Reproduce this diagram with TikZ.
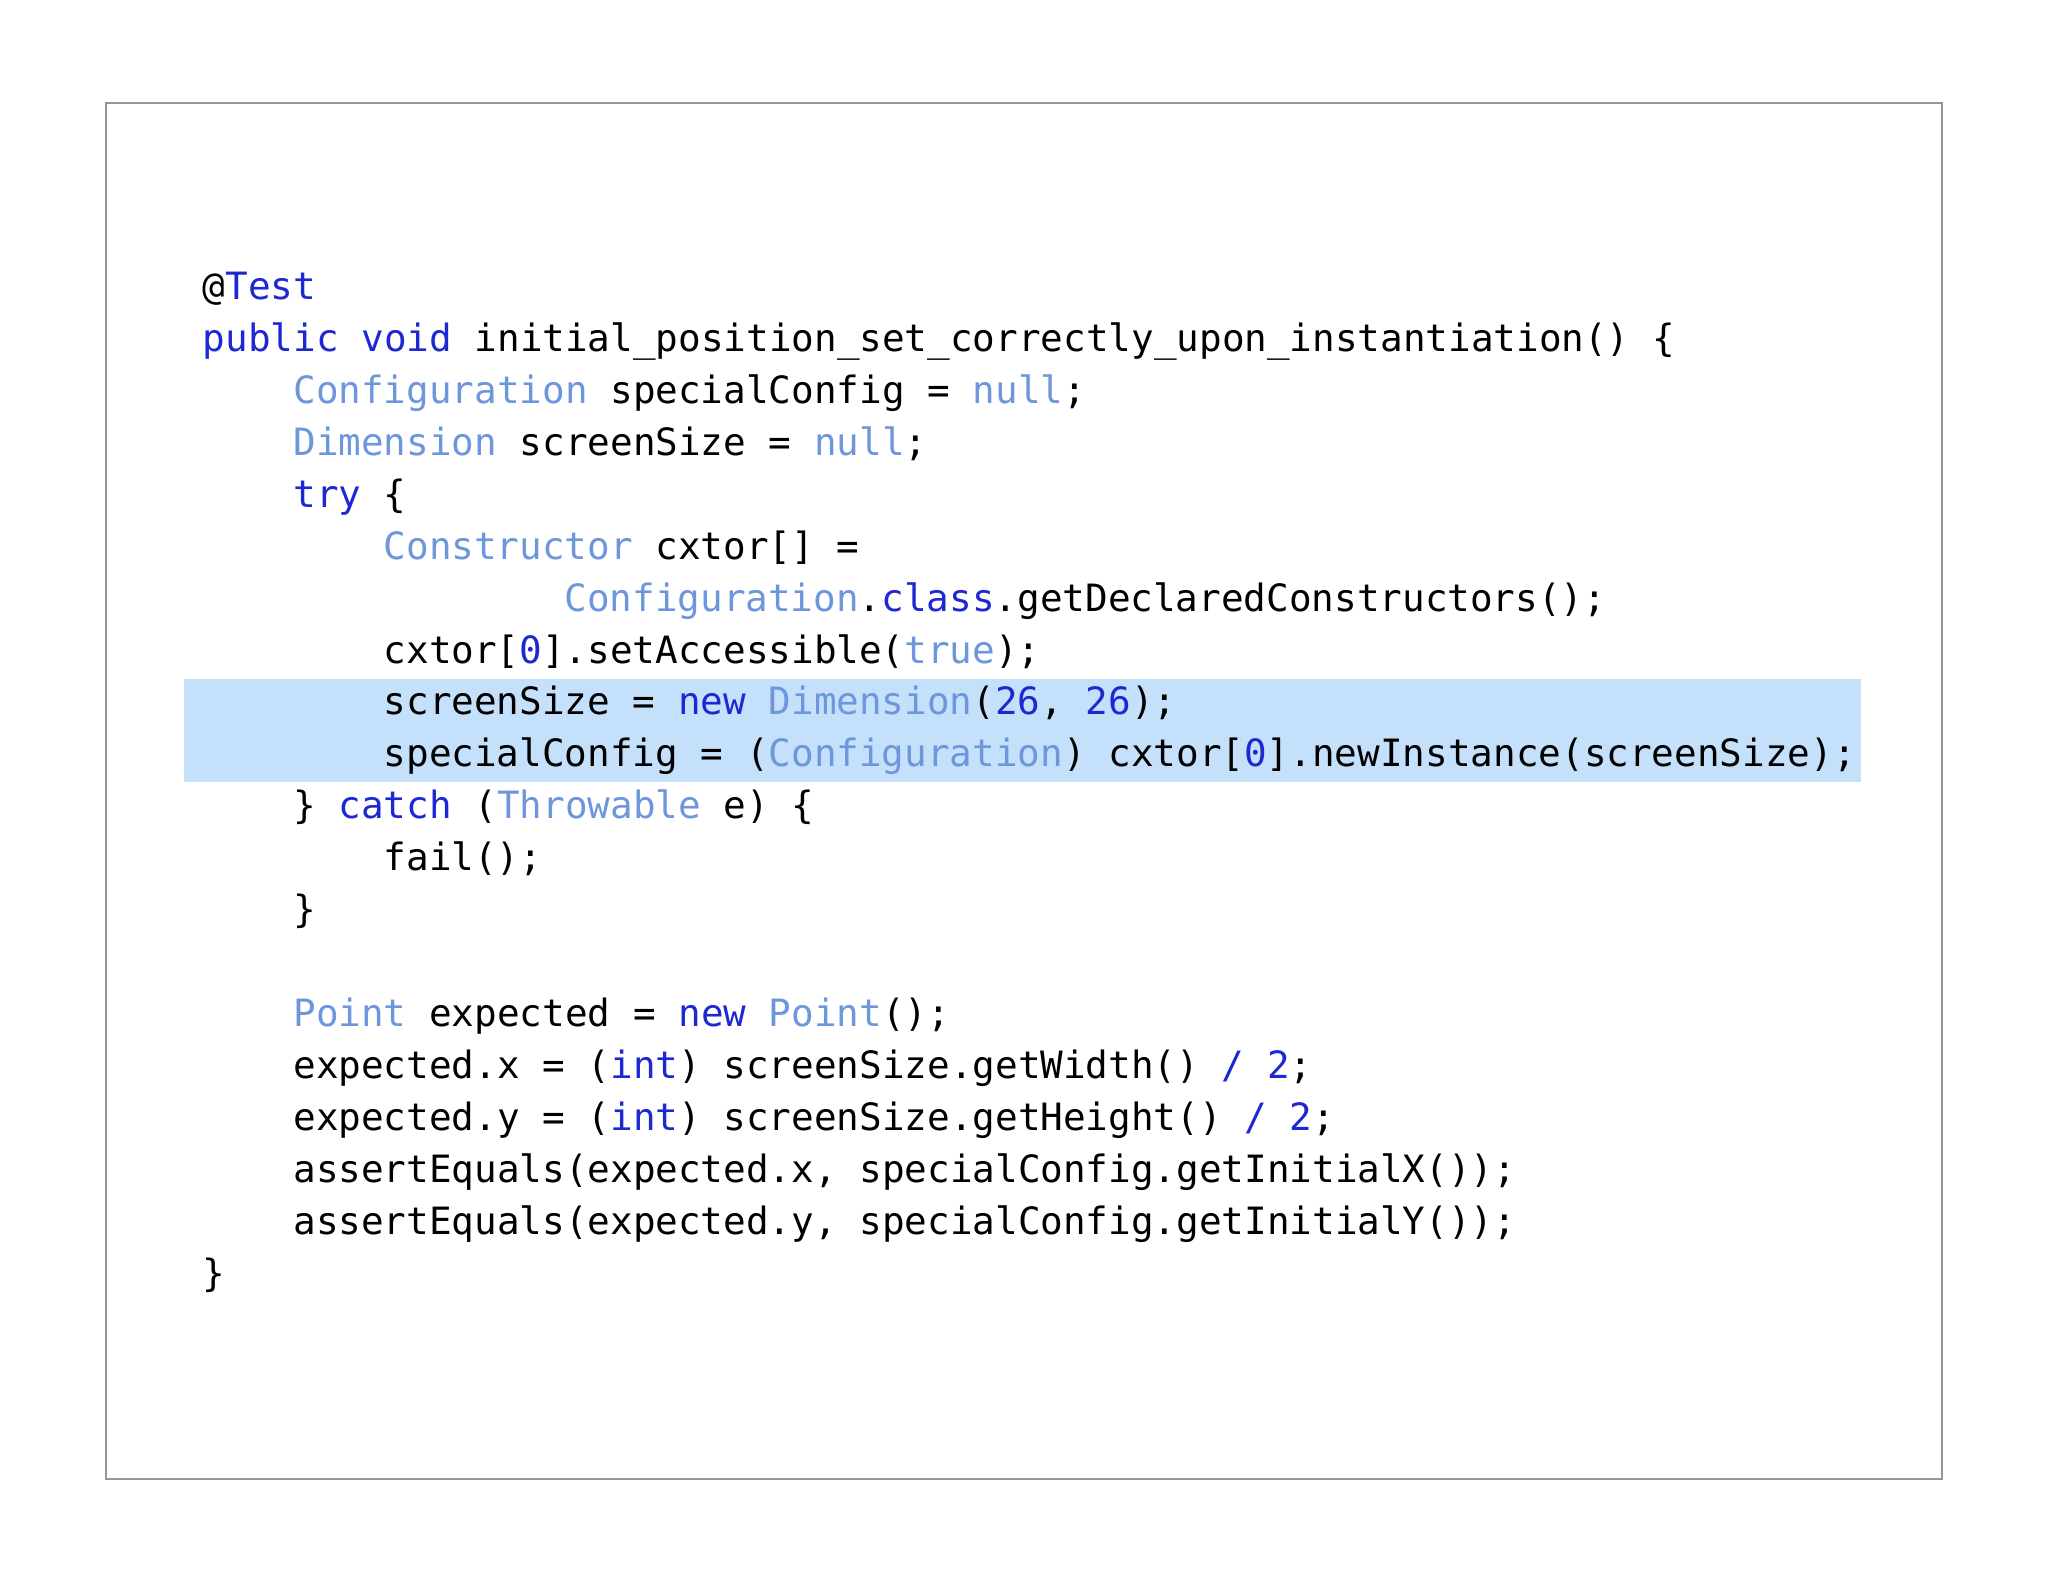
\documentclass[tikz,border=0pt]{standalone}
\usepackage{fontspec}
\setmonofont{DejaVu Sans Mono}
\definecolor{kw}{RGB}{30,40,210}
\definecolor{ty}{RGB}{110,150,220}
\definecolor{hl}{RGB}{196,224,250}
\definecolor{fr}{RGB}{150,150,150}
\newcommand\kw[1]{\textcolor{kw}{#1}}
\newcommand\ty[1]{\textcolor{ty}{#1}}
\begin{document}
\begin{tikzpicture}[x=0.5pt,y=-0.5pt,
  code/.style={anchor=base west,inner sep=0pt,font=\ttfamily\fontsize{14.4pt}{16pt}\selectfont,text=black}]
\useasboundingbox (0,0) rectangle (1568,1211);
\fill[white] (0,0) rectangle (1568,1211);
\draw[fr,line width=0.8pt] (81,79) rectangle (1487,1132);
\fill[hl] (141,520) rectangle (1425,599);
\def\cw{17.3}
\def\bl{229}
\def\ls{39.8}
\node[code] (l0) at (155,\bl) {@\kw{Test}};
\node[code] (l1) at (155,\bl+\ls) {\kw{public} \kw{void} initial\_position\_set\_correctly\_upon\_instantiation() \{};
\node[code] (l2) at (155+4*\cw,\bl+2*\ls) {\ty{Configuration} specialConfig = \ty{null};};
\node[code] (l3) at (155+4*\cw,\bl+3*\ls) {\ty{Dimension} screenSize = \ty{null};};
\node[code] (l4) at (155+4*\cw,\bl+4*\ls) {\kw{try} \{};
\node[code] (l5) at (155+8*\cw,\bl+5*\ls) {\ty{Constructor} cxtor[] =};
\node[code] (l6) at (155+16*\cw,\bl+6*\ls) {\ty{Configuration}.\kw{class}.getDeclaredConstructors();};
\node[code] (l7) at (155+8*\cw,\bl+7*\ls) {cxtor[\kw{0}].setAccessible(\ty{true});};
\node[code] (l8) at (155+8*\cw,\bl+8*\ls) {screenSize = \kw{new} \ty{Dimension}(\kw{26}, \kw{26});};
\node[code] (l9) at (155+8*\cw,\bl+9*\ls) {specialConfig = (\ty{Configuration}) cxtor[\kw{0}].newInstance(screenSize);};
\node[code] (l10) at (155+4*\cw,\bl+10*\ls) {\} \kw{catch} (\ty{Throwable} e) \{};
\node[code] (l11) at (155+8*\cw,\bl+11*\ls) {fail();};
\node[code] (l12) at (155+4*\cw,\bl+12*\ls) {\}};
\node[code] (l14) at (155+4*\cw,\bl+14*\ls) {\ty{Point} expected = \kw{new} \ty{Point}();};
\node[code] (l15) at (155+4*\cw,\bl+15*\ls) {expected.x = (\kw{int}) screenSize.getWidth() \kw{/ 2};};
\node[code] (l16) at (155+4*\cw,\bl+16*\ls) {expected.y = (\kw{int}) screenSize.getHeight() \kw{/ 2};};
\node[code] (l17) at (155+4*\cw,\bl+17*\ls) {assertEquals(expected.x, specialConfig.getInitialX());};
\node[code] (l18) at (155+4*\cw,\bl+18*\ls) {assertEquals(expected.y, specialConfig.getInitialY());};
\node[code] (l19) at (155,\bl+19*\ls) {\}};
\end{tikzpicture}
\end{document}
